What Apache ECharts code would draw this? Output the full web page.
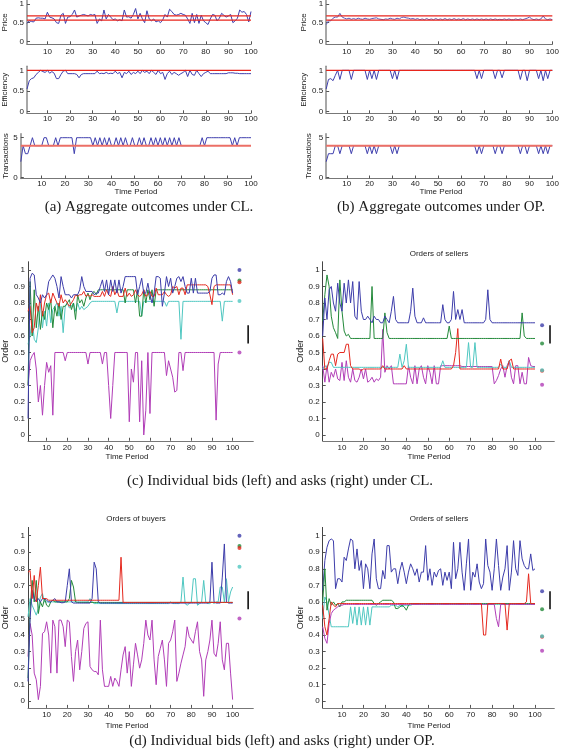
<!DOCTYPE html>
<html><head><meta charset="utf-8">
<script src="https://cdn.jsdelivr.net/npm/echarts@6/dist/echarts.min.js"></script>
<style>html,body{margin:0;padding:0;background:#fff}#c{width:562px;height:751px}</style>
</head><body><div id="c"></div>
<script>
// ---------- DATA ----------
const periods = Array.from({length: 100}, (_, i) => i + 1);
const xTickValues = [10,20,30,40,50,60,70,80,90,100];
const yTicksUnit = [0, 0.5, 1];
const yTicksTrans = [0, 5];
const yTicksOrder = [0,0.1,0.2,0.3,0.4,0.5,0.6,0.7,0.8,0.9,1];

const eqPriceBand = [0.57, 0.68];
const maxEfficiency = 1;
const eqTransactions = 4;

const priceCL = [0.48,0.55,0.53,0.52,0.62,0.63,0.62,0.62,0.6,0.78,
 0.65,0.63,0.6,0.5,0.48,0.7,0.75,0.48,0.65,0.66,
 0.72,0.84,0.65,0.68,0.7,0.72,0.7,0.68,0.72,0.7,
 0.72,0.48,0.6,0.55,0.84,0.6,0.72,0.65,0.58,0.6,
 0.55,0.58,0.55,0.84,0.65,0.66,0.62,0.72,0.88,0.6,
 0.75,0.6,0.5,0.82,0.6,0.55,0.6,0.52,0.55,0.5,
 0.58,0.72,0.65,0.86,0.8,0.72,0.7,0.72,0.75,0.72,
 0.7,0.6,0.48,0.75,0.5,0.72,0.48,0.7,0.55,0.5,
 0.45,0.6,0.72,0.7,0.55,0.62,0.75,0.7,0.65,0.68,
 0.72,0.5,0.55,0.62,0.84,0.78,0.8,0.72,0.52,0.8];
const efficiencyCL = [0.55,0.75,0.8,0.82,0.9,0.95,1,0.97,0.95,1,
 0.93,0.97,0.93,0.8,0.8,0.9,0.98,1,0.92,0.92,
 0.92,0.92,0.9,0.82,0.9,0.92,0.92,0.92,0.92,0.92,
 0.92,0.98,0.92,0.93,0.92,0.95,0.92,0.93,0.92,0.98,
 0.92,0.95,0.82,0.95,0.92,0.98,0.9,0.95,0.92,0.98,
 0.92,1,0.95,0.98,0.92,1,0.95,0.9,1,0.92,
 0.95,0.78,0.92,0.98,0.9,0.95,0.92,0.88,0.92,0.95,
 1,0.85,1,0.9,0.88,1,0.92,0.85,0.92,0.95,
 0.98,0.92,0.92,0.92,0.92,0.92,0.92,0.92,0.92,0.94,
 0.94,0.94,0.93,0.93,0.92,0.92,0.92,0.92,0.92,0.92];
const transactionsCL = [2,4,3,3,4,5,4,4,4,4,
 5,5,4,4,4,5,4,5,5,5,
 5,5,5,3,5,5,5,5,5,5,
 5,4,5,4,5,4,5,4,5,4,
 4,5,4,5,4,5,4,4,5,4,
 4,5,4,5,4,4,5,4,5,4,
 5,4,5,4,5,4,5,4,5,4,
 4,4,4,4,4,4,4,4,5,4,
 5,5,5,5,5,5,5,5,5,5,
 5,4,5,4,5,5,5,5,5,5];

const priceOP = [0.45,0.55,0.55,0.62,0.65,0.65,0.75,0.65,0.62,0.6,
 0.62,0.59,0.61,0.59,0.62,0.6,0.59,0.62,0.6,0.59,
 0.61,0.62,0.63,0.6,0.59,0.58,0.6,0.59,0.62,0.6,
 0.59,0.62,0.6,0.64,0.65,0.63,0.62,0.6,0.61,0.59,
 0.61,0.58,0.6,0.58,0.61,0.58,0.6,0.58,0.61,0.58,
 0.6,0.58,0.61,0.58,0.6,0.58,0.61,0.58,0.6,0.58,
 0.61,0.58,0.6,0.58,0.6,0.58,0.6,0.58,0.6,0.58,
 0.6,0.58,0.6,0.58,0.6,0.58,0.59,0.58,0.6,0.58,
 0.6,0.58,0.58,0.6,0.58,0.6,0.58,0.6,0.62,0.65,
 0.6,0.58,0.6,0.58,0.6,0.68,0.6,0.58,0.6,0.58];
const efficiencyOP = [0.55,0.78,0.8,0.75,0.88,1,0.78,1,1,1,
 1,0.78,1,1,1,1,1,1,0.78,1,
 0.8,1,0.78,1,1,1,1,1,1,0.8,
 1,0.78,1,1,1,1,1,1,1,1,
 1,1,1,1,1,1,1,1,1,1,
 1,1,1,1,1,1,1,1,1,1,
 1,1,1,1,1,1,0.8,1,0.8,1,
 1,1,1,1,0.8,1,1,0.82,1,1,
 1,1,1,1,1,0.78,1,1,0.75,1,
 1,1,1,0.8,1,0.75,1,0.8,1,1];
const transactionsOP = [2,3,3,3,4,4,3,4,4,4,
 4,3,4,4,4,4,4,4,3,4,
 3,4,3,4,4,4,4,4,4,3,
 4,3,4,4,4,4,4,4,4,4,
 4,4,4,4,4,4,4,4,4,4,
 4,4,4,4,4,4,4,4,4,4,
 4,4,4,4,4,4,3,4,3,4,
 4,4,4,4,3,4,4,3,4,4,
 4,4,4,4,4,3,4,4,3,4,
 4,4,4,3,4,3,4,3,4,4];

// buyer valuations and seller costs (dots at the right), colour order: blue, green, red, cyan, magenta
const traderColors = ['blue','green','red','cyan','magenta'];
const buyerValues = [1.0, 0.937, 0.925, 0.812, 0.5];
const sellerCosts = [0.665, 0.555, 0.39, 0.392, 0.305];
const eqOrderBand = [0.555, 0.665];

// CL buyers
const bidsCLblue = [0.1,0.95,0.98,0.97,0.85,0.83,0.8,0.85,0.83,0.85,
 0.93,0.95,0.97,0.95,0.9,0.83,0.96,0.9,0.85,0.85,
 0.85,0.83,0.85,0.85,0.85,0.88,0.96,0.9,0.87,0.87,
 0.87,0.87,0.85,0.86,0.86,0.9,0.94,0.87,0.94,0.85,
 0.94,0.87,0.94,0.86,0.94,0.86,0.9,0.96,0.96,0.96,
 0.96,0.96,0.96,0.85,0.9,0.95,0.86,0.86,0.92,0.85,
 0.8,0.86,0.96,0.96,0.95,0.78,0.86,0.96,0.9,0.95,
 0.86,0.9,0.95,0.96,0.93,0.96,0.9,0.86,0.86,0.95,
 0.86,0.95,0.86,0.86,0.86,0.86,0.86,0.86,0.87,0.95,
 0.97,0.97,0.85,0.85,0.86,0.85,0.93,0.96,0.93,0.86];
const bidsCLgreen = [0.3,0.93,0.6,0.88,0.65,0.78,0.64,0.75,0.7,0.8,
 0.76,0.82,0.65,0.78,0.72,0.8,0.7,0.78,0.78,0.8,
 0.82,0.76,0.8,0.7,0.85,0.8,0.82,0.78,0.83,0.86,
 0.82,0.86,0.87,0.85,0.88,0.88,0.88,0.88,0.88,0.88,
 0.88,0.88,0.88,0.88,0.88,0.88,0.88,0.8,0.88,0.88,
 0.88,0.88,0.8,0.88,0.72,0.72,0.88,0.8,0.88,0.82,
 0.88,0.78,0.88,0.88,0.88,0.88,0.88,0.88,0.88,0.88,
 0.88,0.88,0.88,0.88,0.88,0.88,0.88,0.88,0.88,0.88,
 0.88,0.88,0.88,0.88,0.88,0.88,0.88,0.88,0.88,0.88,
 0.88,0.88,0.88,0.88,0.88,0.88,0.88,0.88,0.88,0.88];
const bidsCLred = [0.75,0.78,0.62,0.65,0.8,0.75,0.85,0.72,0.8,0.85,
 0.86,0.8,0.86,0.83,0.8,0.78,0.85,0.8,0.82,0.8,
 0.78,0.8,0.82,0.85,0.84,0.85,0.85,0.87,0.84,0.85,
 0.84,0.85,0.84,0.84,0.84,0.84,0.87,0.84,0.88,0.85,
 0.84,0.9,0.85,0.88,0.84,0.84,0.84,0.89,0.84,0.86,
 0.84,0.85,0.88,0.85,0.84,0.85,0.88,0.84,0.85,0.87,
 0.84,0.84,0.89,0.85,0.85,0.85,0.87,0.85,0.84,0.85,
 0.9,0.89,0.9,0.85,0.89,0.89,0.85,0.91,0.91,0.91,
 0.91,0.91,0.91,0.91,0.91,0.91,0.91,0.9,0.85,0.79,
 0.9,0.91,0.91,0.91,0.91,0.91,0.91,0.91,0.91,0.85];
const bidsCLcyan = [0.55,0.6,0.7,0.58,0.56,0.65,0.8,0.65,0.75,0.66,
 0.8,0.68,0.76,0.78,0.8,0.72,0.78,0.62,0.78,0.8,
 0.77,0.78,0.8,0.75,0.8,0.76,0.78,0.76,0.77,0.78,
 0.8,0.81,0.81,0.81,0.81,0.81,0.81,0.81,0.81,0.81,
 0.81,0.81,0.81,0.74,0.81,0.81,0.81,0.81,0.81,0.81,
 0.81,0.81,0.81,0.81,0.81,0.72,0.81,0.81,0.81,0.81,
 0.81,0.81,0.81,0.81,0.81,0.81,0.81,0.78,0.81,0.81,
 0.81,0.81,0.81,0.81,0.58,0.81,0.81,0.81,0.81,0.81,
 0.81,0.81,0.81,0.81,0.81,0.81,0.81,0.81,0.81,0.81,
 0.81,0.81,0.81,0.81,0.69,0.81,0.81,0.81,0.81,0.81];
const bidsCLmagenta = [0.3,0.45,0.48,0.5,0.4,0.2,0.3,0.12,0.3,0.44,
 0.38,0.42,0.12,0.5,0.5,0.5,0.5,0.5,0.45,0.5,
 0.5,0.5,0.5,0.5,0.5,0.5,0.5,0.5,0.5,0.43,
 0.5,0.5,0.5,0.5,0.5,0.5,0.43,0.5,0.5,0.3,
 0.1,0.3,0.5,0.5,0.5,0.5,0.5,0.5,0.5,0.08,
 0.4,0.32,0.5,0.5,0.08,0.45,0.0,0.15,0.5,0.13,
 0.5,0.5,0.5,0.5,0.5,0.5,0.5,0.36,0.45,0.4,
 0.35,0.26,0.27,0.5,0.5,0.39,0.5,0.5,0.5,0.5,
 0.5,0.5,0.5,0.5,0.5,0.5,0.5,0.5,0.5,0.5,
 0.5,0.09,0.43,0.5,0.5,0.5,0.5,0.5,0.5,0.5];

// CL sellers
const asksCLblue = [0.6,0.83,0.7,0.88,0.9,0.8,0.75,0.92,0.8,0.75,
 0.92,0.8,0.94,0.8,0.93,0.72,0.7,0.93,0.75,0.7,
 0.7,0.72,0.7,0.68,0.72,0.7,0.7,0.68,0.68,0.72,
 0.7,0.68,0.75,0.84,0.7,0.68,0.68,0.68,0.68,0.68,
 0.68,0.75,0.89,0.72,0.68,0.68,0.68,0.71,0.68,0.68,
 0.68,0.68,0.68,0.68,0.68,0.68,0.79,0.7,0.68,0.68,
 0.7,0.87,0.7,0.76,0.7,0.76,0.68,0.68,0.68,0.68,
 0.68,0.68,0.68,0.68,0.68,0.68,0.7,0.88,0.7,0.68,
 0.68,0.68,0.68,0.68,0.68,0.68,0.68,0.68,0.68,0.68,
 0.68,0.68,0.68,0.68,0.68,0.68,0.68,0.68,0.68,0.68];
const asksCLgreen = [0.69,0.85,0.97,0.9,0.72,0.65,0.62,0.585,0.94,0.75,
 0.63,0.6,0.61,0.585,0.585,0.585,0.585,0.585,0.585,0.585,
 0.585,0.585,0.585,0.9,0.585,0.585,0.585,0.585,0.585,0.74,
 0.62,0.585,0.585,0.585,0.585,0.585,0.585,0.585,0.585,0.585,
 0.585,0.585,0.585,0.585,0.585,0.585,0.585,0.585,0.585,0.585,
 0.585,0.585,0.585,0.585,0.585,0.585,0.585,0.585,0.585,0.66,
 0.585,0.585,0.585,0.585,0.585,0.585,0.585,0.585,0.585,0.585,
 0.585,0.585,0.585,0.585,0.585,0.585,0.585,0.585,0.585,0.585,
 0.585,0.585,0.585,0.585,0.585,0.585,0.585,0.585,0.585,0.585,
 0.585,0.585,0.585,0.74,0.6,0.585,0.585,0.585,0.585,0.585];
const asksCLred = [0.585,0.4,0.4,0.45,0.49,0.49,0.42,0.49,0.5,0.5,
 0.5,0.55,0.55,0.42,0.4,0.4,0.4,0.4,0.39,0.4,
 0.4,0.4,0.4,0.4,0.4,0.4,0.4,0.4,0.42,0.4,
 0.4,0.4,0.4,0.4,0.4,0.4,0.4,0.4,0.42,0.4,
 0.4,0.4,0.4,0.4,0.4,0.4,0.4,0.4,0.4,0.4,
 0.4,0.4,0.4,0.4,0.4,0.4,0.4,0.4,0.4,0.4,
 0.4,0.42,0.5,0.645,0.4,0.4,0.4,0.4,0.4,0.4,
 0.4,0.4,0.4,0.4,0.4,0.4,0.4,0.4,0.4,0.4,
 0.4,0.4,0.4,0.46,0.4,0.4,0.4,0.45,0.46,0.4,
 0.4,0.4,0.4,0.4,0.4,0.4,0.4,0.4,0.4,0.4];
const asksCLcyan = [0.4,0.42,0.41,0.44,0.44,0.41,0.41,0.41,0.41,0.41,
 0.41,0.41,0.41,0.41,0.41,0.41,0.41,0.41,0.41,0.41,
 0.41,0.41,0.41,0.41,0.41,0.41,0.41,0.41,0.41,0.41,
 0.41,0.41,0.41,0.41,0.41,0.41,0.49,0.41,0.45,0.55,
 0.41,0.41,0.41,0.41,0.41,0.41,0.41,0.41,0.41,0.41,
 0.41,0.41,0.41,0.41,0.41,0.41,0.45,0.41,0.41,0.41,
 0.41,0.41,0.41,0.41,0.41,0.41,0.41,0.41,0.56,0.41,
 0.41,0.56,0.41,0.41,0.41,0.41,0.41,0.41,0.41,0.41,
 0.41,0.41,0.41,0.43,0.41,0.41,0.41,0.45,0.41,0.41,
 0.41,0.41,0.41,0.41,0.41,0.41,0.41,0.41,0.41,0.41];
const asksCLmagenta = [0.42,0.32,0.42,0.32,0.38,0.35,0.4,0.34,0.33,0.44,
 0.33,0.45,0.35,0.32,0.4,0.33,0.32,0.35,0.4,0.34,
 0.4,0.32,0.33,0.35,0.32,0.34,0.33,0.35,0.64,0.38,
 0.42,0.4,0.42,0.31,0.31,0.31,0.31,0.31,0.31,0.31,
 0.42,0.35,0.31,0.42,0.31,0.4,0.42,0.35,0.31,0.42,
 0.38,0.31,0.42,0.31,0.31,0.42,0.42,0.42,0.42,0.42,
 0.42,0.42,0.42,0.42,0.42,0.415,0.415,0.415,0.415,0.415,
 0.415,0.415,0.415,0.415,0.415,0.415,0.415,0.415,0.415,0.415,
 0.31,0.33,0.36,0.4,0.42,0.35,0.42,0.45,0.35,0.31,
 0.42,0.42,0.31,0.38,0.31,0.31,0.47,0.42,0.415,0.415];

// OP buyers
const bidsOPblue = [0.12,0.5,0.67,0.62,0.6,0.62,0.6,0.62,0.62,0.61,
 0.6,0.6,0.61,0.62,0.6,0.6,0.595,0.595,0.6,0.7,
 0.8,0.6,0.593,0.593,0.593,0.593,0.593,0.593,0.593,0.593,
 0.593,0.62,0.84,0.8,0.6,0.593,0.593,0.593,0.593,0.593,
 0.593,0.593,0.593,0.593,0.593,0.593,0.593,0.593,0.593,0.593,
 0.593,0.593,0.593,0.593,0.593,0.593,0.593,0.593,0.593,0.593,
 0.593,0.593,0.593,0.593,0.593,0.593,0.593,0.593,0.593,0.593,
 0.593,0.593,0.593,0.593,0.593,0.593,0.593,0.593,0.593,0.593,
 0.593,0.593,0.593,0.593,0.593,0.593,0.593,0.593,0.6,0.84,
 0.6,0.593,0.593,0.593,0.75,0.95,0.6,0.593,0.593,0.593];
const bidsOPgreen = [0.14,0.55,0.73,0.6,0.73,0.53,0.6,0.57,0.62,0.58,
 0.57,0.6,0.61,0.6,0.6,0.6,0.6,0.6,0.6,0.6,
 0.62,0.73,0.69,0.6,0.597,0.597,0.597,0.597,0.597,0.597,
 0.597,0.597,0.597,0.597,0.597,0.597,0.597,0.597,0.597,0.597,
 0.597,0.597,0.597,0.597,0.597,0.597,0.597,0.597,0.597,0.597,
 0.597,0.597,0.597,0.597,0.597,0.597,0.597,0.597,0.597,0.597,
 0.597,0.597,0.597,0.597,0.597,0.597,0.597,0.597,0.597,0.597,
 0.597,0.597,0.597,0.597,0.597,0.597,0.597,0.597,0.597,0.597,
 0.597,0.597,0.597,0.597,0.597,0.597,0.597,0.597,0.597,0.597,
 0.597,0.597,0.597,0.597,0.597,0.597,0.597,0.597,0.597,0.597];
const bidsOPred = [0.78,0.79,0.62,0.76,0.6,0.7,0.81,0.62,0.62,0.62,
 0.61,0.61,0.61,0.61,0.61,0.61,0.61,0.61,0.61,0.61,
 0.61,0.61,0.61,0.61,0.61,0.61,0.61,0.61,0.61,0.61,
 0.61,0.61,0.61,0.61,0.61,0.61,0.61,0.61,0.61,0.61,
 0.61,0.61,0.61,0.61,0.61,0.87,0.597,0.597,0.597,0.597,
 0.597,0.597,0.597,0.597,0.597,0.597,0.597,0.597,0.597,0.597,
 0.597,0.597,0.597,0.597,0.597,0.597,0.597,0.597,0.597,0.597,
 0.597,0.597,0.597,0.597,0.597,0.597,0.597,0.597,0.597,0.597,
 0.597,0.597,0.597,0.597,0.597,0.597,0.597,0.597,0.597,0.597,
 0.597,0.597,0.597,0.597,0.597,0.597,0.597,0.597,0.597,0.597];
const bidsOPcyan = [0.51,0.62,0.58,0.55,0.52,0.56,0.63,0.65,0.6,0.6,
 0.6,0.6,0.6,0.6,0.6,0.6,0.6,0.6,0.6,0.6,
 0.6,0.6,0.6,0.6,0.6,0.6,0.6,0.6,0.6,0.6,
 0.62,0.6,0.59,0.59,0.59,0.59,0.59,0.59,0.59,0.59,
 0.59,0.59,0.59,0.59,0.59,0.59,0.59,0.59,0.59,0.59,
 0.59,0.59,0.59,0.59,0.59,0.59,0.59,0.59,0.59,0.59,
 0.59,0.59,0.59,0.59,0.59,0.59,0.59,0.59,0.59,0.6,
 0.59,0.59,0.59,0.59,0.6,0.75,0.59,0.58,0.59,0.6,
 0.74,0.74,0.58,0.59,0.6,0.73,0.6,0.59,0.59,0.6,
 0.59,0.6,0.6,0.69,0.69,0.6,0.74,0.6,0.66,0.69];
const bidsOPmagenta = [0.27,0.47,0.4,0.17,0.13,0.01,0.09,0.41,0.42,0.48,
 0.4,0.17,0.49,0.45,0.17,0.49,0.49,0.45,0.33,0.49,
 0.48,0.27,0.12,0.3,0.37,0.19,0.3,0.44,0.47,0.48,
 0.21,0.19,0.18,0.18,0.16,0.49,0.19,0.09,0.09,0.09,
 0.15,0.09,0.14,0.12,0.09,0.19,0.28,0.33,0.17,0.3,
 0.09,0.22,0.35,0.28,0.2,0.25,0.35,0.49,0.4,0.37,
 0.49,0.25,0.1,0.27,0.32,0.37,0.25,0.09,0.35,0.37,
 0.42,0.49,0.12,0.17,0.23,0.28,0.33,0.45,0.39,0.37,
 0.35,0.42,0.48,0.3,0.25,0.03,0.25,0.3,0.37,0.49,
 0.29,0.27,0.35,0.48,0.25,0.19,0.35,0.35,0.17,0.01];

// OP sellers
const asksOPblue = [0.67,0.85,0.93,0.97,0.98,0.97,0.68,0.74,0.74,0.72,
 0.87,0.85,0.92,0.98,0.97,0.8,0.92,0.79,0.85,0.68,
 0.83,0.8,0.68,0.89,0.98,0.74,0.68,0.68,0.79,0.74,
 0.94,0.94,0.78,0.8,0.8,0.71,0.79,0.84,0.78,0.71,
 0.78,0.83,0.8,0.76,0.8,0.72,0.78,0.78,0.94,0.73,
 0.8,0.7,0.78,0.75,0.79,0.8,0.7,0.78,0.73,0.78,
 0.68,0.96,0.74,0.8,0.96,0.78,0.67,0.83,0.98,0.67,
 0.78,0.75,0.83,0.72,0.68,0.71,0.98,0.82,0.78,0.67,
 0.8,0.98,0.82,0.67,0.75,0.8,0.94,0.67,0.78,0.97,
 0.8,0.76,0.97,0.86,0.82,0.8,0.8,0.89,0.79,0.8];
const asksOPgreen = [0.6,0.8,0.55,0.62,0.58,0.6,0.58,0.59,0.57,0.6,
 0.6,0.61,0.61,0.61,0.61,0.61,0.61,0.61,0.61,0.61,
 0.61,0.61,0.61,0.61,0.59,0.58,0.59,0.6,0.61,0.61,
 0.61,0.61,0.61,0.6,0.56,0.56,0.57,0.58,0.57,0.55,
 0.58,0.59,0.59,0.59,0.59,0.59,0.59,0.59,0.59,0.59,
 0.59,0.59,0.59,0.59,0.59,0.59,0.59,0.59,0.59,0.59,
 0.59,0.59,0.59,0.59,0.59,0.59,0.59,0.59,0.59,0.59,
 0.59,0.59,0.59,0.59,0.59,0.59,0.59,0.59,0.59,0.59,
 0.59,0.59,0.59,0.59,0.59,0.59,0.59,0.59,0.59,0.59,
 0.59,0.59,0.59,0.59,0.59,0.59,0.59,0.59,0.59,0.59];
const asksOPred = [0.58,0.45,0.4,0.5,0.6,0.58,0.57,0.59,0.59,0.59,
 0.59,0.59,0.59,0.59,0.59,0.59,0.59,0.59,0.59,0.59,
 0.59,0.59,0.59,0.59,0.59,0.59,0.59,0.59,0.59,0.59,
 0.59,0.59,0.59,0.59,0.59,0.59,0.59,0.59,0.59,0.59,
 0.59,0.59,0.59,0.59,0.59,0.59,0.59,0.59,0.59,0.59,
 0.59,0.59,0.59,0.59,0.59,0.59,0.59,0.59,0.59,0.59,
 0.59,0.59,0.59,0.59,0.59,0.59,0.59,0.59,0.59,0.59,
 0.59,0.59,0.59,0.59,0.59,0.4,0.4,0.59,0.59,0.59,
 0.59,0.59,0.59,0.59,0.59,0.59,0.43,0.59,0.59,0.59,
 0.59,0.59,0.59,0.59,0.59,0.6,0.77,0.59,0.59,0.59];
const asksOPcyan = [0.5,0.63,0.6,0.52,0.45,0.45,0.45,0.45,0.45,0.45,
 0.45,0.45,0.45,0.57,0.47,0.57,0.46,0.57,0.46,0.57,
 0.46,0.57,0.46,0.57,0.57,0.57,0.57,0.57,0.57,0.57,
 0.57,0.57,0.58,0.58,0.58,0.57,0.58,0.57,0.58,0.58,
 0.58,0.58,0.585,0.585,0.585,0.585,0.585,0.585,0.585,0.585,
 0.585,0.585,0.585,0.585,0.585,0.585,0.585,0.585,0.585,0.585,
 0.585,0.585,0.585,0.585,0.585,0.585,0.585,0.585,0.585,0.585,
 0.585,0.585,0.585,0.585,0.585,0.585,0.585,0.585,0.585,0.585,
 0.585,0.585,0.585,0.585,0.585,0.585,0.585,0.585,0.585,0.585,
 0.585,0.585,0.585,0.585,0.585,0.585,0.585,0.585,0.585,0.585];
const asksOPmagenta = [0.45,0.38,0.35,0.47,0.53,0.55,0.56,0.57,0.58,0.58,
 0.585,0.585,0.585,0.585,0.585,0.585,0.585,0.585,0.585,0.585,
 0.585,0.585,0.585,0.585,0.585,0.585,0.585,0.585,0.585,0.585,
 0.585,0.585,0.585,0.585,0.585,0.585,0.585,0.585,0.585,0.585,
 0.585,0.585,0.585,0.585,0.585,0.585,0.585,0.585,0.585,0.585,
 0.585,0.585,0.585,0.585,0.585,0.585,0.585,0.585,0.585,0.585,
 0.585,0.585,0.585,0.585,0.585,0.585,0.585,0.585,0.585,0.585,
 0.585,0.585,0.585,0.585,0.585,0.585,0.585,0.585,0.585,0.585,
 0.585,0.5,0.45,0.585,0.585,0.585,0.585,0.585,0.585,0.585,
 0.585,0.585,0.585,0.585,0.585,0.585,0.585,0.585,0.585,0.585];

// ---------- STYLE / LAYOUT ----------
const COL = {blue:'#3d3daa', green:'#23893a', red:'#e5291f', cyan:'#4fc7c1', magenta:'#b13db7'};
const REF_RED = '#e8251c';
const SANS = 'Liberation Sans, Arial, sans-serif';
const SERIF = 'Liberation Serif, Times New Roman, serif';
const TXT = '#1a1a1a';

const grids = [
  {left:20.8, top:0.3, width:230.2, height:44.0},   // 0 price CL
  {left:20.8, top:66.2, width:230.2, height:47.1},  // 1 eff CL
  {left:20.8, top:133.7, width:230.2, height:44.8}, // 2 trans CL
  {left:326.2, top:0.3, width:229.1, height:44.0},  // 3 price OP
  {left:326.2, top:66.2, width:229.1, height:47.1}, // 4 eff OP
  {left:326.2, top:133.7, width:229.1, height:44.8},// 5 trans OP
  {left:22, top:261.75, width:231.3, height:179.0}, // 6 bids CL
  {left:322.7, top:261.75, width:231.6, height:179.0}, // 7 asks CL
  {left:22, top:527.4, width:231.3, height:180.5},  // 8 bids OP
  {left:322.7, top:527.4, width:231.6, height:180.5}// 9 asks OP
];
const xRanges = [[1,100],[1,100],[1,100],[1,100],[1,100],[1,100],[1,110],[1,109],[1,110],[1,109]];
const yRanges = [[-0.08,1.1],[-0.038,1.1],[-0.1,5.5],[-0.08,1.1],[-0.038,1.1],[-0.1,5.5],
                 [-0.035,1.05],[-0.035,1.05],[-0.04,1.05],[-0.04,1.05]];
const yTicks = [yTicksUnit,yTicksUnit,yTicksTrans,yTicksUnit,yTicksUnit,yTicksTrans,
                yTicksOrder,yTicksOrder,yTicksOrder,yTicksOrder];
const yNames = ['Price','Efficiency','Transactions','Price','Efficiency','Transactions','Order','Order','Order','Order'];
const xLabelMargin = [3,1,1,3,1,1,3,3,3,3];

const xAxes = grids.map((g, i) => ({
  type:'value', gridIndex:i, min:xRanges[i][0], max:xRanges[i][1],
  axisLine:{show:true, onZero:false, lineStyle:{color:'#777', width:1}},
  axisTick:{show:true, inside:true, length:3, customValues:xTickValues, lineStyle:{color:'#555'}},
  axisLabel:{show:true, customValues:xTickValues, fontSize:8, fontFamily:SANS, color:TXT, margin:xLabelMargin[i]},
  splitLine:{show:false}
}));
const yAxes = grids.map((g, i) => ({
  type:'value', gridIndex:i, min:yRanges[i][0], max:yRanges[i][1],
  name:yNames[i], nameLocation:'middle', nameRotate:90,
  nameGap: i < 6 ? (i < 3 ? 11 : 13) : 13,
  nameTextStyle:{fontSize: i < 6 ? 8 : 9, fontFamily:SANS, color:TXT},
  axisLine:{show:true, onZero:false, lineStyle:{color: i < 6 ? '#8a8a8a' : '#444', width: i < 6 ? 1.5 : 1}},
  axisTick:{show:true, inside:true, length:3, customValues:yTicks[i], lineStyle:{color:'#555'}},
  axisLabel:{show:true, customValues:yTicks[i], fontSize:8, fontFamily:SANS, color:TXT, margin:3},
  splitLine:{show:false}
}));

const series = [];
function pts(arr){ return arr.map((v, k) => [periods[k], v]); }
function addLine(gi, arr, color, w, z){
  series.push({type:'line', xAxisIndex:gi, yAxisIndex:gi, data:pts(arr), symbol:'none',
    lineStyle:{color:color, width:w || 1}, itemStyle:{color:color}, z:z || 2, silent:true, animation:false});
}
function addHLine(gi, y, color, w, z){
  series.push({type:'line', xAxisIndex:gi, yAxisIndex:gi,
    data:[[periods[0], y],[periods[periods.length-1], y]], symbol:'none',
    lineStyle:{color:color, width:w}, z:z || 3, silent:true, animation:false});
}

// (a) CL aggregates
addLine(0, priceCL, '#3f3fae', 1);
addHLine(0, eqPriceBand[0], REF_RED, 1.3); addHLine(0, eqPriceBand[1], REF_RED, 1.3);
addLine(1, efficiencyCL, '#3f3fae', 1);
addHLine(1, maxEfficiency, REF_RED, 1.3);
addLine(2, transactionsCL, '#3f3fae', 1);
addHLine(2, eqTransactions, '#ec6f66', 2);
// (b) OP aggregates
addLine(3, priceOP, '#5a5ab8', 1);
addHLine(3, eqPriceBand[0], REF_RED, 1.3); addHLine(3, eqPriceBand[1], REF_RED, 1.3);
addLine(4, efficiencyOP, '#3f3fae', 1);
addHLine(4, maxEfficiency, REF_RED, 1.3);
addLine(5, transactionsOP, '#3f3fae', 1);
addHLine(5, eqTransactions, '#ec6f66', 2);

// (c) CL individual orders
addLine(6, bidsCLmagenta, COL.magenta, 1, 2);
addLine(6, bidsCLcyan, COL.cyan, 1, 3);
addLine(6, bidsCLgreen, COL.green, 1, 4);
addLine(6, bidsCLred, COL.red, 1, 5);
addLine(6, bidsCLblue, COL.blue, 1, 6);
addLine(7, asksCLmagenta, COL.magenta, 1, 2);
addLine(7, asksCLcyan, COL.cyan, 1, 3);
addLine(7, asksCLred, COL.red, 1, 4);
addLine(7, asksCLgreen, COL.green, 1, 5);
addLine(7, asksCLblue, COL.blue, 1, 6);
// (d) OP individual orders
addLine(8, bidsOPmagenta, COL.magenta, 1, 2);
addLine(8, bidsOPcyan, COL.cyan, 1, 3);
addLine(8, bidsOPgreen, COL.green, 1, 4);
addLine(8, bidsOPblue, COL.blue, 1, 5);
addLine(8, bidsOPred, COL.red, 1, 6);
addLine(9, asksOPblue, COL.blue, 1, 2);
addLine(9, asksOPcyan, COL.cyan, 1, 3);
addLine(9, asksOPgreen, COL.green, 1, 4);
addLine(9, asksOPmagenta, COL.magenta, 1, 5);
addLine(9, asksOPred, COL.red, 1, 6);

// valuation dots and equilibrium bar
const dotX = {6:103.3, 7:103.3, 8:103.3, 9:103.3};
const barX = {6:107.5, 7:107.0, 8:107.5, 9:107.0};
[6,7,8,9].forEach(gi => {
  const vals = (gi === 6 || gi === 8) ? buyerValues : sellerCosts;
  const order = (gi === 6 || gi === 8) ? [0,1,2,3,4] : [0,1,2,3,4];
  series.push({type:'scatter', xAxisIndex:gi, yAxisIndex:gi, symbol:'circle', symbolSize:4, z:8, silent:true, animation:false,
    data: order.map(k => ({value:[dotX[gi], vals[k]], itemStyle:{color:COL[traderColors[k]]}}))});
  series.push({type:'line', xAxisIndex:gi, yAxisIndex:gi, symbol:'none', z:8, silent:true, animation:false,
    data:[[barX[gi], eqOrderBand[0]],[barX[gi], eqOrderBand[1]]], lineStyle:{color:'#000', width:1.5}});
});

function txt(x, y, s, size, font){
  return {type:'text', x:x, y:y, silent:true,
    style:{text:s, fontSize:size, fontFamily:font || SANS, fill:TXT, align:'center', verticalAlign:'middle'}};
}
const graphics = [
  txt(136, 192, 'Time Period', 8), txt(441, 192, 'Time Period', 8),
  txt(149, 207, '(a) Aggregate outcomes under CL.', 15, SERIF),
  txt(441, 207, '(b) Aggregate outcomes under OP.', 15, SERIF),
  txt(135, 254, 'Orders of buyers', 8), txt(439, 254, 'Orders of sellers', 8),
  txt(127, 457, 'Time Period', 8), txt(429, 457, 'Time Period', 8),
  txt(280, 481, '(c) Individual bids (left) and asks (right) under CL.', 15, SERIF),
  txt(136, 519, 'Orders of buyers', 8), txt(439, 519, 'Orders of sellers', 8),
  txt(127, 726, 'Time Period', 8), txt(429, 726, 'Time Period', 8),
  txt(282, 741, '(d) Individual bids (left) and asks (right) under OP.', 15, SERIF)
];

const chart = echarts.init(document.getElementById('c'), null, {renderer:'canvas'});
chart.setOption({
  animation:false,
  backgroundColor:'#fff',
  grid: grids,
  xAxis: xAxes,
  yAxis: yAxes,
  series: series,
  graphic: graphics
});
</script>
</body></html>
